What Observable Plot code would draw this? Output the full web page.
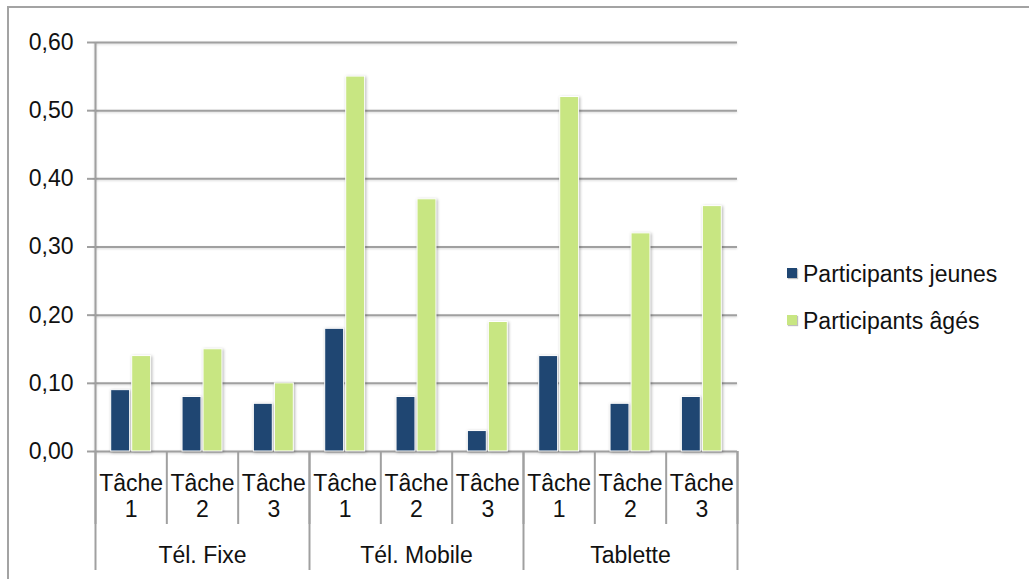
<!DOCTYPE html>
<html><head><meta charset="utf-8">
<script src="https://cdn.jsdelivr.net/npm/d3@7"></script>
<script src="https://cdn.jsdelivr.net/npm/@observablehq/plot@0.6"></script>
<style>
body{margin:0;background:#fff;overflow:hidden;font-family:"Liberation Sans",Arial,sans-serif;}
#wrap{position:relative;width:1029px;height:579px;overflow:hidden;}
#frame{position:absolute;left:7px;top:6px;width:1040px;height:620px;border:2px solid #a3a3a3;box-sizing:border-box;}
#chart{position:absolute;left:0;top:0;}
#legend{position:absolute;left:787px;top:251px;font-size:23px;color:#111;}
.item{display:flex;align-items:center;height:47px;}
.sw{width:10px;height:10px;margin-right:6px;margin-top:-4px;box-shadow:1px 1px 1px rgba(0,0,0,0.25);}
</style>
</head><body>
<div id="wrap"><div id="frame"></div><div id="chart"></div><div id="legend"></div></div>
<script>
const groups = ["Tél. Fixe", "Tél. Mobile", "Tablette"];
const tasks = ["Tâche\n1", "Tâche\n2", "Tâche\n3"];
const series = ["Participants jeunes", "Participants âgés"];
const jeunes = [0.09, 0.08, 0.07, 0.18, 0.08, 0.03, 0.14, 0.07, 0.08];
const ages   = [0.14, 0.15, 0.10, 0.55, 0.37, 0.19, 0.52, 0.32, 0.36];
const yTicks = [0, 0.1, 0.2, 0.3, 0.4, 0.5, 0.6];
const colors = ["#1f4672", "#c8e682"];

const values = [jeunes, ages];
const cats = groups.flatMap((g, gi) => tasks.map((t, ti) => ({group: g, task: t, i: gi * tasks.length + ti})));
const rows = cats.flatMap(c => series.map((s, si) => ({...c, series: s, value: values[si][c.i]})));
const fmt = d => d3.format(".2f")(d).replace(".", ",");
const grid = "#a0a0a0";
const txt = "#111";

const plot = Plot.plot({
  width: 1029, height: 579,
  marginLeft: 95, marginRight: 292, marginTop: 42, marginBottom: 128,
  x: {domain: [0, cats.length], axis: null},
  y: {domain: [0, 0.6], axis: null},
  style: {fontFamily: "Liberation Sans, Arial, sans-serif", fontSize: "23px", color: txt, background: "transparent", overflow: "visible"},
  marks: [
    Plot.ruleY(yTicks, {stroke: grid, strokeWidth: 2}),
    Plot.axisY({ticks: yTicks, tickFormat: fmt, tickSize: 8, tickPadding: 14, stroke: grid, strokeWidth: 2, fill: txt, label: null}),
    Plot.ruleX([0], {stroke: grid, strokeWidth: 2}),
    Plot.axisX({ticks: d3.range(cats.length + 1), tickSize: 73, tickFormat: () => "", stroke: grid, strokeWidth: 2, label: null}),
    Plot.axisX({ticks: d3.range(0, cats.length + 1, tasks.length), tickSize: 119, tickFormat: () => "", stroke: grid, strokeWidth: 2, label: null}),
    Plot.axisX({ticks: cats.map(c => c.i + 0.5), tickSize: 0, tickPadding: 21, tickFormat: v => cats[Math.floor(v)].task, lineHeight: 1.13, fill: txt, label: null}),
    Plot.axisX({ticks: groups.map((g, gi) => gi * tasks.length + tasks.length / 2), tickSize: 0, tickPadding: 95, tickFormat: v => groups[Math.floor(v / tasks.length)], fill: txt, label: null}),
    Plot.rectY(rows.filter(d => d.series === series[0]), {x1: "i", x2: d => d.i + 1, y: "value", fill: colors[0], insetLeft: 15.7, insetRight: 36.7, stroke: "white", strokeWidth: 1}),
    Plot.rectY(rows.filter(d => d.series === series[1]), {x1: "i", x2: d => d.i + 1, y: "value", fill: colors[1], insetLeft: 36.7, insetRight: 15.7, stroke: "white", strokeWidth: 1})
  ]
});
d3.select(plot).selectAll('g[aria-label="rect"]').style("filter", "drop-shadow(1.5px 1px 1.5px rgba(0,0,0,0.3))");
d3.select(plot).selectAll('g[aria-label="rule"]').style("filter", "drop-shadow(0px 1px 1px rgba(0,0,0,0.15))");
document.getElementById("chart").appendChild(plot);

const legend = d3.select("#legend");
series.forEach((s, i) => {
  const it = legend.append("div").attr("class", "item");
  it.append("div").attr("class", "sw").style("background", colors[i]);
  it.append("span").text(s);
});
</script>
</body></html>
